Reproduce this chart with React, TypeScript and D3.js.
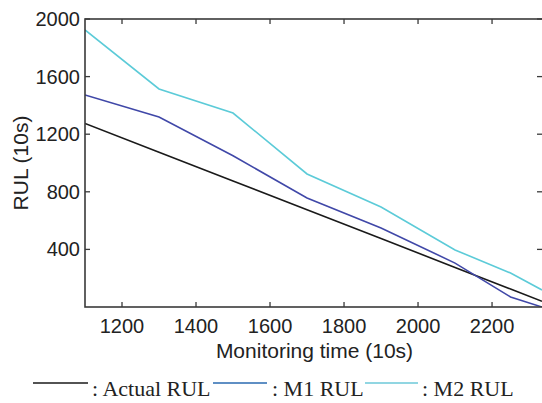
import React from "react";
import * as d3 from "d3";

const times = [1100, 1300, 1500, 1700, 1900, 2100, 2250, 2335];
const actualRUL = [1275, 1075, 875, 675, 475, 275, 125, 40];
const m1RUL = [1472, 1319, 1050, 757, 549, 305, 70, 0];
const m2RUL = [1924, 1514, 1347, 924, 694, 396, 236, 118];
const xTicks = [1200, 1400, 1600, 1800, 2000, 2200];
const yTicks = [400, 800, 1200, 1600, 2000];

const W = 542, H = 403;
const L = 85, R = 542, T = 19, B = 307;

export default function App() {
  const x = d3.scaleLinear().domain([1100, 2335]).range([L, R]);
  const y = d3.scaleLinear().domain([0, 2000]).range([B, T]);
  const line = d3.line<number>().x((_, i) => x(times[i])).y((d) => y(d));
  const axisColor = "#3a3a3a";
  const sans = "Liberation Sans, Arial, sans-serif";
  const series = [
    { data: actualRUL, color: "#1a1a1a" },
    { data: m1RUL, color: "#4048a8" },
    { data: m2RUL, color: "#5ccbd8" },
  ];
  const legend = [
    { x1: 33, x2: 88, tx: 92, label: ": Actual RUL", color: "#1a1a1a" },
    { x1: 213, x2: 267, tx: 272, label: ": M1 RUL", color: "#2a6ab0" },
    { x1: 365, x2: 418, tx: 422, label: ": M2 RUL", color: "#6cc8d8" },
  ];
  return (
    <svg width={W} height={H} style={{ position: "absolute", left: 0, top: 0, background: "#fff" }}>
      <defs>
        <clipPath id="clip">
          <rect x={L} y={T} width={R - L} height={B - T} />
        </clipPath>
      </defs>
      <g clipPath="url(#clip)">
        {series.map((s, i) => (
          <path key={i} d={line(s.data) || ""} fill="none" stroke={s.color} strokeWidth={1.6} />
        ))}
      </g>
      <rect x={L} y={T} width={R - L + 2} height={B - T} fill="none" stroke={axisColor} strokeWidth={1.6} />
      {xTicks.map((t) => (
        <g key={t}>
          <line x1={x(t)} x2={x(t)} y1={B} y2={B - 5} stroke={axisColor} strokeWidth={1.3} />
          <line x1={x(t)} x2={x(t)} y1={T} y2={T + 5} stroke={axisColor} strokeWidth={1.3} />
          <text x={x(t)} y={333} textAnchor="middle" fontFamily={sans} fontSize={20} fill="#222">
            {t}
          </text>
        </g>
      ))}
      {yTicks.map((t) => (
        <g key={t}>
          <line x1={L} x2={L + 5} y1={y(t)} y2={y(t)} stroke={axisColor} strokeWidth={1.3} />
          <line x1={R - 5} x2={R} y1={y(t)} y2={y(t)} stroke={axisColor} strokeWidth={1.3} />
          <text x={80} y={y(t) + 7} textAnchor="end" fontFamily={sans} fontSize={20} fill="#222">
            {t}
          </text>
        </g>
      ))}
      <text x={(L + R) / 2 + 1} y={358} textAnchor="middle" fontFamily={sans} fontSize={21} fill="#222">
        Monitoring time (10s)
      </text>
      <text transform={`translate(28,${(T + B) / 2}) rotate(-90)`} textAnchor="middle" fontFamily={sans} fontSize={21} fill="#222">
        RUL (10s)
      </text>
      {legend.map((l) => (
        <g key={l.label}>
          <line x1={l.x1} x2={l.x2} y1={383} y2={383} stroke={l.color} strokeWidth={1.6} />
          <text x={l.tx} y={396} fontFamily="Liberation Serif, Times New Roman, serif" fontSize={22} fill="#222">
            {l.label}
          </text>
        </g>
      ))}
    </svg>
  );
}
